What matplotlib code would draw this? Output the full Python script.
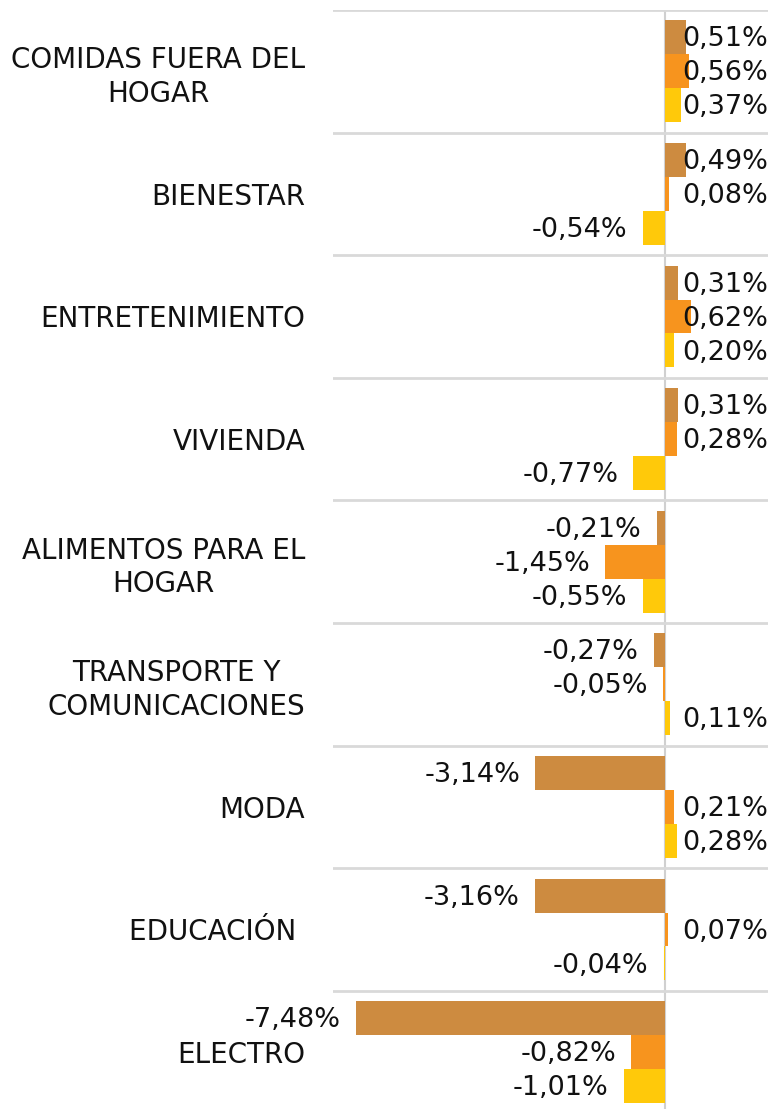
import numpy as np
import matplotlib
matplotlib.use('Agg')
from matplotlib import pyplot as plt

# data, top to bottom
categories = ['COMIDAS FUERA DEL\nHOGAR', 'BIENESTAR', 'ENTRETENIMIENTO', 'VIVIENDA',
              'ALIMENTOS PARA EL\nHOGAR', 'TRANSPORTE Y\nCOMUNICACIONES', 'MODA',
              'EDUCACIÓN ', 'ELECTRO']
serie_1 = [0.51, 0.49, 0.31, 0.31, -0.21, -0.27, -3.14, -3.16, -7.48]
serie_2 = [0.56, 0.08, 0.62, 0.28, -1.45, -0.05, 0.21, 0.07, -0.82]
serie_3 = [0.37, -0.54, 0.20, -0.77, -0.55, 0.11, 0.28, -0.04, -1.01]
colors = ['#CD8B40', '#F7941E', '#FFC90A']

plt.rcParams['font.family'] = ['DejaVu Sans']

fig = plt.figure(figsize=(7.74, 11.09), dpi=100)
W, H = 774., 1109.
top, step = 10., 122.6
n = len(categories)
ax = fig.add_axes([333 / W, 1 - (top + n * step) / H, 435 / W, n * step / H])

y = np.arange(n)
h = 0.277
for k, (vals, c) in enumerate(zip([serie_1, serie_2, serie_3], colors)):
    pos = y + (k - 1) * h
    ax.barh(pos, vals, height=h, color=c, zorder=2)
    for p, v in zip(pos, vals):
        txt = ('%.2f%%' % v).replace('.', ',')
        if v >= 0:
            ax.annotate(txt, (0, p), xytext=(12.5, -1.5), textcoords='offset points',
                        ha='left', va='center', fontsize=19.5, color='#111111', zorder=3)
        else:
            ax.annotate(txt, (v, p), xytext=(-11, -1.5), textcoords='offset points',
                        ha='right', va='center', fontsize=19.5, color='#111111', zorder=3)

ax.set_xlim(-8.03, 2.48)
ax.set_ylim(n - 0.5, -0.5)
ax.axvline(0, color='#D0D0D0', lw=1.5, zorder=1)
for b in np.arange(n + 1) - 0.5:
    ax.axhline(b, color='#D9D9D9', lw=2, zorder=1)

ax.set_yticks(y)
ax.set_yticklabels(categories, fontsize=20, multialignment='center', color='#111111',
                   linespacing=1.25)
ax.tick_params(axis='y', length=0, pad=20)
ax.set_xticks([])
for s in ax.spines.values():
    s.set_visible(False)

fig.savefig('out.png', dpi=100)
